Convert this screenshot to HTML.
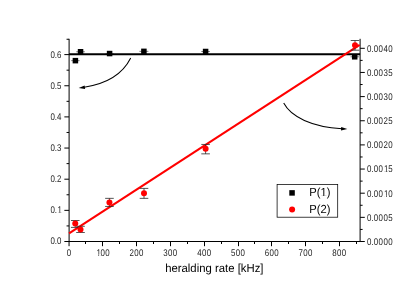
<!DOCTYPE html>
<html><head><meta charset="utf-8"><title>chart</title>
<style>html,body{margin:0;padding:0;background:#fff;width:415px;height:290px;overflow:hidden}</style>
</head><body>
<svg width="415" height="290" viewBox="0 0 415 290" style="position:absolute;left:0;top:0;display:block">
<rect width="415" height="290" fill="#fff"/>
<g stroke="#000" stroke-width="1.08" fill="none" stroke-linecap="butt">
<path d="M69.1 38.8 V242.04" stroke-width="1"/><path d="M360.1 38.8 V242.04" stroke-width="1"/><path d="M68.6 241.5 H360.6"/>
<path d="M69.05 241.5 v4.7" stroke-width="1"/>
<path d="M85.50 241.5 v2.5" stroke-width="1"/>
<path d="M102.50 241.5 v4.7" stroke-width="1"/>
<path d="M119.50 241.5 v2.5" stroke-width="1"/>
<path d="M136.50 241.5 v4.7" stroke-width="1"/>
<path d="M153.50 241.5 v2.5" stroke-width="1"/>
<path d="M170.50 241.5 v4.7" stroke-width="1"/>
<path d="M187.50 241.5 v2.5" stroke-width="1"/>
<path d="M204.50 241.5 v4.7" stroke-width="1"/>
<path d="M221.50 241.5 v2.5" stroke-width="1"/>
<path d="M238.50 241.5 v4.7" stroke-width="1"/>
<path d="M254.50 241.5 v2.5" stroke-width="1"/>
<path d="M271.50 241.5 v4.7" stroke-width="1"/>
<path d="M288.50 241.5 v2.5" stroke-width="1"/>
<path d="M305.50 241.5 v4.7" stroke-width="1"/>
<path d="M322.50 241.5 v2.5" stroke-width="1"/>
<path d="M339.50 241.5 v4.7" stroke-width="1"/>
<path d="M356.50 241.5 v2.5" stroke-width="1"/>
<path d="M69.05 241.50 h-4.7" stroke-width="1"/>
<path d="M69.05 225.93 h-2.5" stroke-width="1"/>
<path d="M69.05 210.35 h-4.7" stroke-width="1"/>
<path d="M69.05 194.78 h-2.5" stroke-width="1"/>
<path d="M69.05 179.20 h-4.7" stroke-width="1"/>
<path d="M69.05 163.62 h-2.5" stroke-width="1"/>
<path d="M69.05 148.05 h-4.7" stroke-width="1"/>
<path d="M69.05 132.48 h-2.5" stroke-width="1"/>
<path d="M69.05 116.90 h-4.7" stroke-width="1"/>
<path d="M69.05 101.33 h-2.5" stroke-width="1"/>
<path d="M69.05 85.75 h-4.7" stroke-width="1"/>
<path d="M69.05 70.18 h-2.5" stroke-width="1"/>
<path d="M69.05 54.60 h-4.7" stroke-width="1"/>
<path d="M69.05 39.25 h-2.5" stroke-width="1"/>
<path d="M360.1 241.50 h4.7" stroke-width="1"/>
<path d="M360.1 229.43 h2.5" stroke-width="1"/>
<path d="M360.1 217.35 h4.7" stroke-width="1"/>
<path d="M360.1 205.28 h2.5" stroke-width="1"/>
<path d="M360.1 193.20 h4.7" stroke-width="1"/>
<path d="M360.1 181.12 h2.5" stroke-width="1"/>
<path d="M360.1 169.05 h4.7" stroke-width="1"/>
<path d="M360.1 156.98 h2.5" stroke-width="1"/>
<path d="M360.1 144.90 h4.7" stroke-width="1"/>
<path d="M360.1 132.82 h2.5" stroke-width="1"/>
<path d="M360.1 120.75 h4.7" stroke-width="1"/>
<path d="M360.1 108.68 h2.5" stroke-width="1"/>
<path d="M360.1 96.60 h4.7" stroke-width="1"/>
<path d="M360.1 84.53 h2.5" stroke-width="1"/>
<path d="M360.1 72.45 h4.7" stroke-width="1"/>
<path d="M360.1 60.38 h2.5" stroke-width="1"/>
<path d="M360.1 48.30 h4.7" stroke-width="1"/>
</g>
<g style="filter:grayscale(1);text-rendering:geometricPrecision" font-family="Liberation Sans, sans-serif" font-size="9.7" fill="#1e1e1e">
<text transform="translate(66.75,255.50) scale(0.8150,1)" x="0.00" y="0">0</text>
<text transform="translate(96.39,255.50) scale(0.8150,1)" x="0.00 5.09 10.92" y="0">100</text><rect x="96.59" y="254.43" width="1.77" height="1.62" fill="#fff"/><rect x="99.10" y="254.43" width="1.70" height="1.62" fill="#fff"/>
<text transform="translate(129.58,255.50) scale(0.8150,1)" x="0.00 5.83 11.66" y="0">200</text>
<text transform="translate(163.37,255.50) scale(0.8150,1)" x="0.00 5.83 11.66" y="0">300</text>
<text transform="translate(197.16,255.50) scale(0.8150,1)" x="0.00 5.83 11.66" y="0">400</text>
<text transform="translate(230.95,255.50) scale(0.8150,1)" x="0.00 5.83 11.66" y="0">500</text>
<text transform="translate(264.74,255.50) scale(0.8150,1)" x="0.00 5.83 11.66" y="0">600</text>
<text transform="translate(298.53,255.50) scale(0.8150,1)" x="0.00 5.83 11.66" y="0">700</text>
<text transform="translate(332.32,255.50) scale(0.8150,1)" x="0.00 5.83 11.66" y="0">800</text>
<text transform="translate(50.59,244.45) scale(0.8150,1)" x="0.00 5.26 7.82" y="0">0.0</text>
<text transform="translate(50.59,213.30) scale(0.8150,1)" x="0.00 5.26 8.55" y="0">0.1</text><rect x="57.76" y="212.23" width="1.77" height="1.62" fill="#fff"/><rect x="60.27" y="212.23" width="1.70" height="1.62" fill="#fff"/>
<text transform="translate(50.59,182.15) scale(0.8150,1)" x="0.00 5.26 7.82" y="0">0.2</text>
<text transform="translate(50.59,151.00) scale(0.8150,1)" x="0.00 5.26 7.82" y="0">0.3</text>
<text transform="translate(50.59,119.85) scale(0.8150,1)" x="0.00 5.26 7.82" y="0">0.4</text>
<text transform="translate(50.59,88.70) scale(0.8150,1)" x="0.00 5.26 7.82" y="0">0.5</text>
<text transform="translate(50.59,57.55) scale(0.8150,1)" x="0.00 5.26 7.82" y="0">0.6</text>
<text transform="translate(366.94,244.80) scale(0.8150,1)" x="0.00 5.54 8.38 14.34 20.31 26.27" y="0">0.0000</text>
<text transform="translate(366.94,220.65) scale(0.8150,1)" x="0.00 5.54 8.38 14.34 20.31 26.27" y="0">0.0005</text>
<text transform="translate(366.94,196.50) scale(0.8150,1)" x="0.00 5.54 8.38 14.34 21.04 26.27" y="0">0.0010</text><rect x="384.29" y="195.43" width="1.77" height="1.62" fill="#fff"/><rect x="386.80" y="195.43" width="1.70" height="1.62" fill="#fff"/>
<text transform="translate(366.94,172.35) scale(0.8150,1)" x="0.00 5.54 8.38 14.34 21.04 26.27" y="0">0.0015</text><rect x="384.29" y="171.28" width="1.77" height="1.62" fill="#fff"/><rect x="386.80" y="171.28" width="1.70" height="1.62" fill="#fff"/>
<text transform="translate(366.94,148.20) scale(0.8150,1)" x="0.00 5.54 8.38 14.34 20.31 26.27" y="0">0.0020</text>
<text transform="translate(366.94,124.05) scale(0.8150,1)" x="0.00 5.54 8.38 14.34 20.31 26.27" y="0">0.0025</text>
<text transform="translate(366.94,99.90) scale(0.8150,1)" x="0.00 5.54 8.38 14.34 20.31 26.27" y="0">0.0030</text>
<text transform="translate(366.94,75.75) scale(0.8150,1)" x="0.00 5.54 8.38 14.34 20.31 26.27" y="0">0.0035</text>
<text transform="translate(366.94,51.60) scale(0.8150,1)" x="0.00 5.54 8.38 14.34 20.31 26.27" y="0">0.0040</text>
</g>
<g style="filter:grayscale(1);text-rendering:geometricPrecision" font-family="Liberation Sans, sans-serif" font-size="11.7" fill="#000">
<text transform="translate(165.15,272.10) scale(0.9700,1)">heralding rate [kHz]</text>
</g>
<path d="M69.05 54.35 H360.1" stroke="#000" stroke-width="2.0"/>
<path d="M69.05 233.4 L359.70000000000005 44.95" stroke="#f00" stroke-width="2.1"/>
<path d="M71.2 60.65 H79.60000000000001" stroke="#222" stroke-width="0.6"/>
<rect x="72.65" y="57.90" width="5.5" height="5.5" fill="#000"/>
<path d="M76.25 51.75 H84.85" stroke="#222" stroke-width="0.6"/>
<rect x="77.80" y="49.00" width="5.5" height="5.5" fill="#000"/>
<path d="M105.39999999999999 53.55 H113.8" stroke="#222" stroke-width="0.6"/>
<rect x="106.85" y="50.80" width="5.5" height="5.5" fill="#000"/>
<path d="M139.4 51.35 H148.4" stroke="#222" stroke-width="0.6"/>
<rect x="141.15" y="48.60" width="5.5" height="5.5" fill="#000"/>
<path d="M201.3 51.5 H209.89999999999998" stroke="#222" stroke-width="0.6"/>
<rect x="202.85" y="48.75" width="5.5" height="5.5" fill="#000"/>
<path d="M350.5 56.8 H358.9" stroke="#222" stroke-width="0.6"/>
<rect x="351.95" y="54.05" width="5.5" height="5.5" fill="#000"/>
<path d="M75.25 220.5 V227.4 M70.95 220.5 h8.6 M70.95 227.4 h8.6" stroke="#2a2a2a" stroke-width="0.8" fill="none"/>
<circle cx="75.25" cy="223.5" r="3.0" fill="#f00"/>
<path d="M80.5 226.3 V232.5 M76.2 226.3 h8.6 M76.2 232.5 h8.6" stroke="#2a2a2a" stroke-width="0.8" fill="none"/>
<circle cx="80.5" cy="229.4" r="3.0" fill="#f00"/>
<path d="M109.45 198.35 V206.45 M105.15 198.35 h8.6 M105.15 206.45 h8.6" stroke="#2a2a2a" stroke-width="0.8" fill="none"/>
<circle cx="109.45" cy="202.4" r="3.0" fill="#f00"/>
<path d="M144.0 188.4 V198.35 M139.7 188.4 h8.6 M139.7 198.35 h8.6" stroke="#2a2a2a" stroke-width="0.8" fill="none"/>
<circle cx="144.0" cy="193.3" r="3.0" fill="#f00"/>
<path d="M205.6 144.45 V153.85 M201.29999999999998 144.45 h8.6 M201.29999999999998 153.85 h8.6" stroke="#2a2a2a" stroke-width="0.8" fill="none"/>
<circle cx="205.6" cy="148.8" r="3.0" fill="#f00"/>
<path d="M355.0 40.5 V50.2 M350.7 40.5 h8.6 M350.7 50.2 h8.6" stroke="#2a2a2a" stroke-width="0.8" fill="none"/>
<circle cx="355.0" cy="45.3" r="3.0" fill="#f00"/>
<path d="M130.7 58.0 Q118.4 82.5 83 87.4" stroke="#000" stroke-width="1.05" fill="none"/>
<path d="M78.7 88.0 L84.6 85.5 L85.1 88.9 Z" fill="#000"/>
<path d="M283.7 103.1 C291 117 312 127 342 128.7" stroke="#000" stroke-width="1.05" fill="none"/>
<path d="M347.3 129.0 L341.2 127.0 L341.0 130.4 Z" fill="#000"/>
<rect x="277.1" y="184.5" width="60.6" height="32.7" fill="#fff" stroke="#000" stroke-width="0.75"/>
<rect x="289.30" y="190.15" width="5.5" height="5.5" fill="#000"/>
<circle cx="292.1" cy="209.5" r="3.0" fill="#f00"/>
<g style="filter:grayscale(1);text-rendering:geometricPrecision" font-family="Liberation Sans, sans-serif" font-size="11.7" fill="#000">
<text transform="translate(309.30,196.40) scale(0.9550,1)">P(1)</text><rect x="320.92" y="195.18" width="2.34" height="1.77" fill="#fff"/><rect x="324.29" y="195.18" width="2.25" height="1.77" fill="#fff"/>
<text transform="translate(309.30,212.50) scale(0.9550,1)">P(2)</text>
</g>
</svg>
</body></html>
